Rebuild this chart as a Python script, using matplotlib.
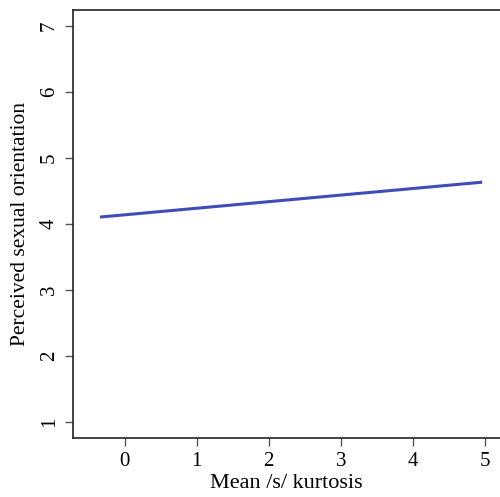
import matplotlib
matplotlib.use("Agg")
import matplotlib.pyplot as plt
import numpy as np

# data
x_vals = [-0.34, 4.96]
y_vals = [4.105, 4.633]
x_ticks = [0, 1, 2, 3, 4, 5]
y_ticks = [1, 2, 3, 4, 5, 6, 7]
x_label = "Mean /s/ kurtosis"
y_label = "Perceived sexual orientation"

plt.rcParams['font.family'] = ['Liberation Serif', 'DejaVu Serif']

W, H = 500, 497
fig = plt.figure(figsize=(W/100, H/100), dpi=100)
left, right, top, bottom = 73, 500, 10, 438
ax = fig.add_axes([left/W, 1-bottom/H, (right-left)/W, (bottom-top)/H])

ax.plot(x_vals, y_vals, color="#3f4db8", lw=2.2, solid_capstyle="butt")

x0 = -0.715
ax.set_xlim(x0, x0 + (right-left)/72.1)
ax.set_ylim(0.76, 7.24)
ax.set_xticks(x_ticks)
ax.set_yticks(y_ticks)
ax.set_yticklabels([str(v) for v in y_ticks], rotation=90, va="center")
ax.tick_params(direction="out", length=6, width=1, color="#555555", labelsize=15, pad=4)
for s in ax.spines.values():
    s.set_color("#222222")
    s.set_linewidth(1.2)
ax.spines["right"].set_visible(False)
ax.set_xlabel(x_label, fontsize=16, labelpad=2)
ax.set_ylabel(y_label, fontsize=15.5, labelpad=7)

fig.savefig("out.png", dpi=100)
